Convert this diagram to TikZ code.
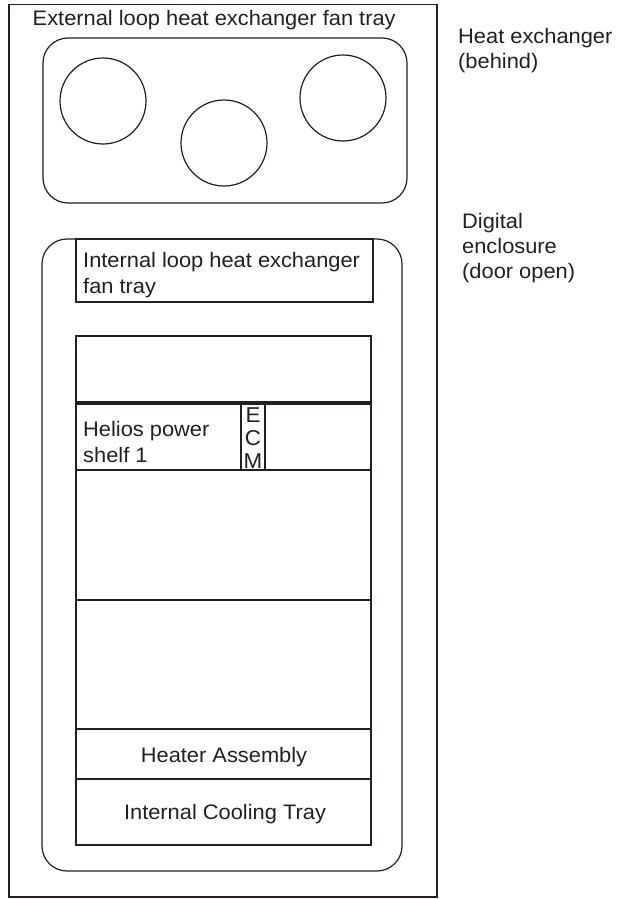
\documentclass[tikz,border=0pt]{standalone}
\usepackage{fontspec}
\setmainfont[FakeStretch=1.04]{Liberation Sans}
\definecolor{ink}{HTML}{231F20}
\begin{document}
\begin{tikzpicture}[x=1pt,y=-1pt,
  box/.style={draw=ink, line width=1.2pt, inner sep=0pt, outer sep=0pt, anchor=north west},
  fan/.style={draw=ink, line width=1.2pt, circle, inner sep=0pt, minimum size=86pt},
  lbl/.style={font=\fontsize{21}{25}\selectfont, text=ink, inner sep=0pt, anchor=base west},
  clbl/.style={font=\fontsize{21}{25}\selectfont, text=ink, inner sep=0pt, anchor=base},
  elbl/.style={font=\fontsize{21.5}{22}\selectfont, text=ink, inner sep=0pt, anchor=base}]
\useasboundingbox (0,0) rectangle (616,899);
% outer enclosure
\node[box, minimum width=428pt, minimum height=892.5pt] (outer) at (9,4.5) {};
\node[lbl] (ext) at (32.5,26) {External loop heat exchanger fan tray};
% external fan tray
\node[box, rounded corners=25pt, minimum width=364pt, minimum height=165pt] (exttray) at (43,38) {};
\node[fan] (fanA) at (103,101) {};
\node[fan] (fanB) at (224,143) {};
\node[fan] (fanC) at (343,98) {};
% right labels
\node[lbl] (he1) at (458,44) {Heat exchanger};
\node[lbl] (he2) at (458,68) {(behind)};
\node[lbl] (dg1) at (462,228) {Digital};
\node[lbl] (dg2) at (462,253) {enclosure};
\node[lbl] (dg3) at (462,278) {(door open)};
% digital enclosure
\node[box, rounded corners=25pt, minimum width=360pt, minimum height=632pt] (digital) at (42,239) {};
\node[box, minimum width=297pt, minimum height=63pt] (inttray) at (76,239) {};
\node[lbl] (int1) at (83,267) {Internal loop heat exchanger};
\node[lbl] (int2) at (83,293) {fan tray};
\node[box, minimum width=295pt, minimum height=66pt] (slot1) at (76,336) {};
\node[box, minimum width=295pt, minimum height=66pt] (helios) at (76,404) {};
\node[lbl] (hel1) at (83,436) {Helios power};
\node[lbl] (hel2) at (83,462) {shelf 1};
\node[box, minimum width=24pt, minimum height=66pt] (ecm) at (241,404) {};
\node[elbl] (ecmE) at (253,422) {E};
\node[elbl] (ecmC) at (253,445) {C};
\node[elbl] (ecmM) at (253,468) {M};
\node[box, minimum width=295pt, minimum height=130pt] (slot2) at (76,470) {};
\node[box, minimum width=295pt, minimum height=129pt] (slot3) at (76,600) {};
\node[box, minimum width=295pt, minimum height=50pt] (heater) at (76,729) {};
\node[clbl] (heaterT) at (224,762.5) {Heater Assembly};
\node[box, minimum width=295pt, minimum height=66pt] (cooling) at (76,779) {};
\node[clbl] (coolT) at (225,819) {Internal Cooling Tray};
\end{tikzpicture}
\end{document}
